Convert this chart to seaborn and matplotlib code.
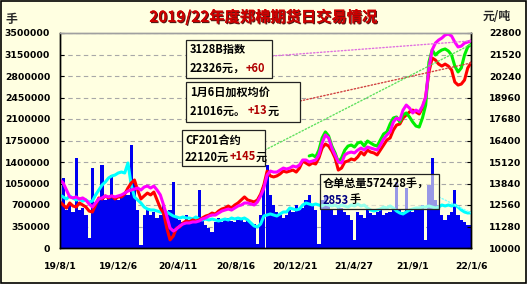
import numpy as np
import pandas as pd
import matplotlib
matplotlib.use("Agg")
import matplotlib.pyplot as plt
import seaborn as sns
from matplotlib import patheffects as pe
from matplotlib.patches import Rectangle

# ---------------- data ----------------
dates = pd.date_range("2019-08-01", "2022-01-06", freq="7D")  # weekly samples (128)

xtick_dates = pd.date_range("2019-08-01", periods=8, freq="127D")
xtick_labels = ["19/8/1", "19/12/6", "20/4/11", "20/8/16", "20/12/21", "21/4/27", "21/9/1", "22/1/6"]

left_ticks = [0, 350000, 700000, 1050000, 1400000, 1750000, 2100000, 2450000, 2800000, 3150000, 3500000]
right_ticks = [10000, 11280, 12560, 13840, 15120, 16400, 17680, 18960, 20240, 21520, 22800]

# daily volume (lots)
volume = [
    700000, 1140000, 619000, 700000, 586000, 1465000, 619000, 651000, 537000, 163000,
    1302000, 700000, 781000, 1351000, 781000, 814000, 1188000, 830000, 781000, 830000,
    863000, 863000, 1677000, 1107000, 619000, 49000, 537000, 619000, 537000, 586000,
    488000, 537000, 700000, 537000, 619000, 1074000, 488000, 456000, 423000, 537000,
    456000, 407000, 423000, 944000, 456000, 374000, 326000, 260000, 423000, 488000,
    423000, 456000, 488000, 440000, 423000, 456000, 488000, 423000, 456000, 407000,
    391000, 65000, 537000, 1026000, 1351000, 863000, 700000, 586000, 537000, 488000,
    537000, 619000, 586000, 700000, 619000, 651000, 781000, 863000, 700000, 619000,
    65000, 781000, 863000, 700000, 619000, 537000, 700000, 651000, 586000, 537000,
    456000, 130000, 586000, 537000, 488000, 619000, 570000, 537000, 586000, 619000,
    537000, 570000, 586000, 651000, 1074000, 619000, 586000, 977000, 619000, 586000,
    619000, 651000, 700000, 130000, 1026000, 1465000, 781000, 700000, 537000, 456000,
    537000, 586000, 944000, 537000, 456000, 423000, 374000, 374000,
]

# warehouse receipts total (lots)
receipts = [
    863000, 830000, 798000, 847000, 814000, 781000, 798000, 765000, 781000, 749000,
    765000, 863000, 944000, 1026000, 1074000, 1140000, 1172000, 1188000, 1221000, 1237000,
    1221000, 1384000, 1026000, 830000, 781000, 733000, 667000, 635000, 619000, 619000,
    602000, 586000, 570000, 586000, 554000, 521000, 505000, 488000, 505000, 488000,
    488000, 472000, 505000, 472000, 456000, 472000, 456000, 472000, 456000, 440000,
    456000, 472000, 456000, 488000, 472000, 488000, 472000, 488000, 456000, 407000,
    358000, 342000, 391000, 521000, 537000, 554000, 537000, 521000, 554000, 586000,
    586000, 651000, 635000, 619000, 635000, 700000, 733000, 716000, 700000, 716000,
    700000, 684000, 716000, 700000, 684000, 700000, 667000, 700000, 684000, 667000,
    700000, 684000, 716000, 684000, 700000, 651000, 619000, 602000, 619000, 635000,
    667000, 651000, 684000, 651000, 602000, 570000, 554000, 586000, 619000, 635000,
    651000, 651000, 667000, 667000, 684000, 667000, 651000, 667000, 700000, 684000,
    700000, 684000, 700000, 667000, 619000, 586000, 570000, 572428,
]

# weighted average futures price (yuan/t)
weighted = [
    12740, 12560, 12380, 12680, 12500, 12440, 12680, 12560, 12440, 12200,
    12140, 12560, 12980, 12920, 13100, 12980, 13100, 12920, 13040, 13040,
    13210, 13570, 13870, 14050, 13450, 12920, 13100, 13270, 13160, 13330,
    12860, 12380, 12080, 11190, 10480, 10710, 11190, 11250, 11490, 11610,
    11550, 11670, 11610, 11670, 11790, 11900, 11960, 12080, 12020, 12200,
    12320, 12380, 12500, 12380, 12560, 12680, 12860, 13040, 12860, 12800,
    12740, 12860, 13210, 13750, 14580, 14290, 14230, 14290, 14410, 14580,
    14520, 14580, 14640, 14520, 14760, 15180, 15060, 14940, 15060, 15000,
    15360, 15950, 16190, 16070, 15770, 15360, 14640, 14760, 15120, 15180,
    15300, 15240, 15420, 15710, 15540, 15830, 15710, 15660, 15540, 15830,
    16130, 16430, 16550, 17020, 17320, 17380, 17740, 17920, 18100, 18210,
    18100, 17980, 18330, 18990, 20480, 21310, 21190, 20950, 20830, 20950,
    20830, 20600, 19880, 19700, 19760, 20000, 20720, 21016,
]

# CF201 contract price (yuan/t), listed from 2021-01-21
cf201 = [
    15480, 15540, 15420, 15830, 16550, 16910, 16670, 16070, 15660, 15120,
    15360, 15830, 16070, 16130, 16010, 16250, 16310, 16070, 16370, 16250,
    16130, 16070, 16430, 16790, 16910, 17380, 17740, 17800, 17500, 17920,
    18040, 17800, 17500, 17260, 17200, 17740, 18510, 21070, 21790, 21490,
    21670, 21790, 21850, 21730, 21490, 20830, 20480, 20720, 21490, 21970,
    22120,
]

# 3128B index (yuan/t)
index3128 = [
    14050, 13870, 13450, 13040, 12980, 13040, 12920, 12980, 12860, 12620,
    12440, 12680, 12920, 12980, 13100, 13040, 13100, 13040, 13100, 13160,
    13270, 13390, 13450, 13510, 13570, 13450, 13630, 13690, 13570, 13690,
    13450, 13160, 12560, 11900, 11190, 11010, 11130, 11310, 11430, 11490,
    11490, 11550, 11550, 11610, 11730, 11790, 11900, 11960, 11960, 12080,
    12200, 12260, 12320, 12260, 12380, 12500, 12560, 12680, 12680, 12620,
    12560, 12740, 13100, 13570, 14350, 14580, 14520, 14520, 14640, 14760,
    14700, 14760, 14880, 14820, 14940, 15240, 15240, 15120, 15180, 15240,
    15540, 16250, 16730, 16550, 15950, 15540, 15120, 15060, 15540, 15660,
    15710, 15660, 15830, 15950, 15830, 16010, 15950, 15890, 15830, 16130,
    16490, 16730, 16910, 17500, 17740, 17620, 18210, 18510, 18330, 18040,
    18210, 18100, 18450, 18990, 20720, 21790, 22200, 22380, 22500, 22680,
    22740, 22620, 22260, 21970, 22020, 22200, 22260, 22326,
]

title = "2019/22年度郑棉期货日交易情况"

# ---------------- style ----------------
W, H = 527, 284
BG = "#FFFFE1"
CJK = ["Noto Sans CJK SC", "DejaVu Sans"]

sns.set_style("white")
plt.rcParams["font.family"] = ["DejaVu Sans", "Noto Sans CJK SC"]
plt.rcParams["font.weight"] = "bold"

fig = plt.figure(figsize=(W / 100, H / 100), dpi=100, facecolor=BG)
ax = fig.add_axes([60 / W, 1 - 248 / H, 411 / W, 215 / H])
ax.set_facecolor(BG)

ax.bar(dates, volume, width=7, color="#0000F0", linewidth=0, zorder=2)
sns.lineplot(x=dates, y=receipts, ax=ax, color="#00FFFF", lw=2.2, zorder=3)

ax.set_xlim(dates[0], dates[-1])
ax.set_ylim(0, 3500000)
ax.set_yticks(left_ticks)
ax.set_yticklabels([str(t) for t in left_ticks])
ax.set_xticks(xtick_dates)
ax.set_xticklabels(xtick_labels)
ax.set_xlabel("")
ax.set_ylabel("")
ax.yaxis.grid(True, linestyle=(0, (4, 3)), color="#A8A8A8", lw=0.8)
ax.set_axisbelow(True)
ax.tick_params(axis="y", direction="in", length=3, pad=7, labelsize=6.7, colors="black")
ax.tick_params(axis="x", direction="in", length=3, pad=10, labelsize=6.7, colors="black")

ax2 = ax.twinx()
sns.lineplot(x=dates, y=weighted, ax=ax2, color="#FF0000", lw=2.2)
sns.lineplot(x=dates[-len(cf201):], y=cf201, ax=ax2, color="#00F000", lw=2.2)
sns.lineplot(x=dates, y=index3128, ax=ax2, color="#FF00FF", lw=2.2)
ax2.set_ylim(10000, 22800)
ax2.set_yticks(right_ticks)
ax2.set_yticklabels([str(t) for t in right_ticks])
ax2.set_ylabel("")
ax2.tick_params(axis="y", direction="in", length=3, pad=13, labelsize=6.7, colors="black")

for a in (ax, ax2):
    for side in ("left", "right", "bottom"):
        a.spines[side].set_color("black")
        a.spines[side].set_linewidth(1.0)
    a.spines["top"].set_color("#A0A0A0")
    a.spines["top"].set_linewidth(1.0)

# ---------------- texts ----------------
fig.text(263 / W, 1 - 17 / H, title, family=CJK, fontsize=11, fontweight="bold",
         color="#CC0000", ha="center", va="center",
         path_effects=[pe.withSimplePatchShadow(offset=(0.8, -0.8), shadow_rgbFace="#400000", alpha=0.9),
                       pe.Normal()])
fig.text(11 / W, 1 - 19 / H, "手", family=CJK, fontsize=8.5, fontweight="bold", ha="center", va="center")
fig.text(497 / W, 1 - 17 / H, "元/吨", family=CJK, fontsize=8.5, fontweight="bold", ha="center", va="center")

renderer = fig.canvas.get_renderer()


def box(x0, y0, x1, y1, alpha=1.0):
    fig.add_artist(Rectangle((x0 / W, 1 - y1 / H), (x1 - x0) / W, (y1 - y0) / H,
                             transform=fig.transFigure, facecolor=(1, 1, 0.88, alpha),
                             edgecolor="#222222", lw=0.9, zorder=10))


def runs(x, y, parts, size=8):
    for s, c in parts:
        t = fig.text(x / W, 1 - y / H, s, color=c, fontsize=size, fontweight="bold",
                     family=CJK, ha="left", va="center", zorder=11)
        x += t.get_window_extent(renderer=renderer).width


def connector(axis, xy, start, color):
    axis.annotate("", xy=xy, xycoords="data", xytext=(start[0] / W, 1 - start[1] / H),
                  textcoords="figure fraction", annotation_clip=False,
                  arrowprops=dict(arrowstyle="-", color=color, linestyle=(0, (1, 1.5)),
                                  lw=1.0, shrinkA=0, shrinkB=0))


connector(ax2, (dates[-1], index3128[-1]), (272, 56), "#E070E0")
connector(ax2, (dates[-1], weighted[-1]), (300, 101), "#D04040")
connector(ax2, (dates[-1], cf201[-1]), (265, 150), "#60E060")
connector(ax, (dates[-1], receipts[-1]), (439, 197), "#80FFFF")

box(186, 40, 272, 78)
runs(190, 50, [("3128B指数", "black")])
runs(190, 68, [("22326元，", "black"), ("+60", "#B00000")])

box(186, 82, 300, 122)
runs(190, 92, [("1月6日加权均价", "black")])
runs(190, 111, [("21016元。 ", "black"), ("+13", "#B00000"), ("元", "black")])

box(182, 130, 265, 166)
runs(185, 140, [("CF201合约", "black")])
runs(185, 157, [("22120元", "black"), ("+145", "#B00000"), ("元", "black")])

box(320, 174, 439, 209, alpha=0.6)
runs(323, 184, [("仓单总量572428手，", "black")])
runs(323, 200, [("2853", "#000080"), ("手", "black")])

fig.add_artist(Rectangle((0.6 / W, 0.6 / H), (W - 1.2) / W, (H - 1.2) / H, transform=fig.transFigure,
                         fill=False, edgecolor="black", lw=1.2, zorder=20))

fig.savefig("out.png", dpi=100, facecolor=BG)
